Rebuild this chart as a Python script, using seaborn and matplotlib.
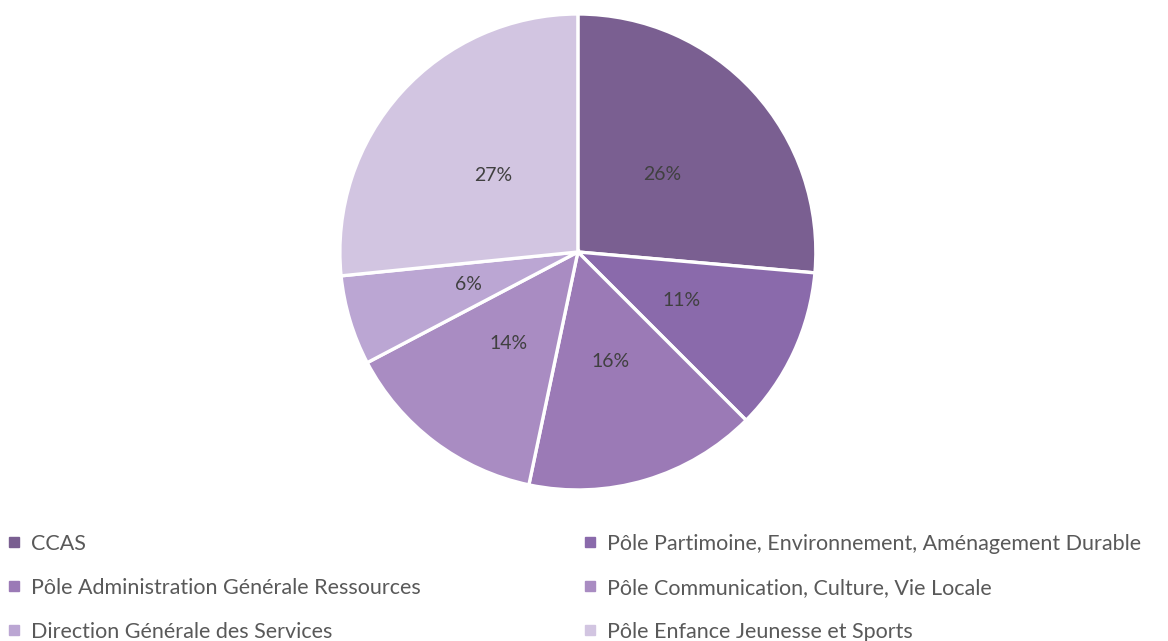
import matplotlib
matplotlib.use("Agg")
from matplotlib import pyplot as plt
from matplotlib.lines import Line2D
import seaborn as sns

# Données
services = ['CCAS',
            'Pôle Partimoine, Environnement, Aménagement Durable',
            'Pôle Administration Générale Ressources',
            'Pôle Communication, Culture, Vie Locale',
            'Direction Générale des Services',
            'Pôle Enfance Jeunesse et Sports']
parts = [26.4, 11.1, 15.8, 14.0, 6.1, 26.6]
couleurs = ['#7a5f91', '#8a6aab', '#9b7ab6', '#a98cc2', '#bba6d3', '#d2c5e1']

sns.set_theme(style="white")
plt.rcParams['font.family'] = ['Lato', 'DejaVu Sans']

fig = plt.figure(figsize=(11.68, 6.41), dpi=100)
ax = fig.add_axes([0.291, 0.2356, 0.4075, 0.7426])

wedges, textes, pcts = ax.pie(parts, colors=couleurs, startangle=90, counterclock=False,
                              autopct='%1.0f%%', pctdistance=0.48,
                              wedgeprops={'edgecolor': 'white', 'linewidth': 2.4},
                              textprops={'fontsize': 14, 'color': '#404040'})
ax.set_xlim(-1.0, 1.0)
ax.set_ylim(-1.0, 1.0)
ax.set_aspect('equal')

# légende sur deux colonnes
poignees = [Line2D([], [], marker='s', linestyle='none', markersize=7,
                   markerfacecolor=c, markeredgecolor=c) for c in couleurs]
gauche = [0, 2, 4]
droite = [1, 3, 5]
opts = dict(loc='upper left', frameon=False, fontsize=15.5, labelspacing=1.12,
            handlelength=0.7, handletextpad=0.45, borderaxespad=0, borderpad=0.2,
            labelcolor='#595959')
leg1 = fig.legend([poignees[i] for i in gauche], [services[i] for i in gauche],
                  bbox_to_anchor=(0.002, 0.174), **opts)
leg2 = fig.legend([poignees[i] for i in droite], [services[i] for i in droite],
                  bbox_to_anchor=(0.495, 0.174), **opts)

fig.savefig('out.png', dpi=100, facecolor='white')
